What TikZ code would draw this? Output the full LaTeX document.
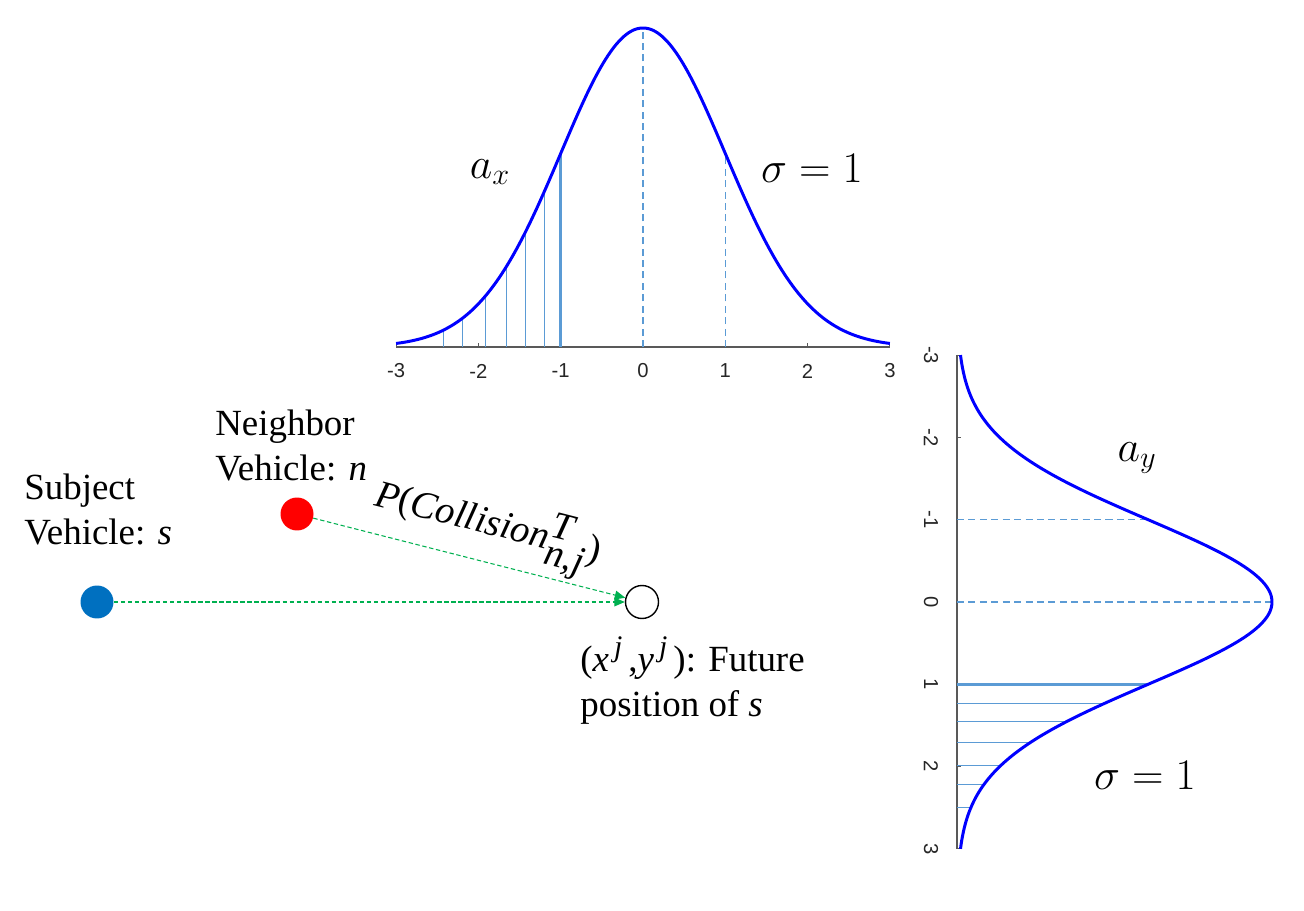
\documentclass[tikz,border=0pt]{standalone}
\usepackage{fontspec}
\setmainfont{Liberation Serif}
\newfontfamily\axisfont{Liberation Sans}
\usetikzlibrary{arrows.meta, positioning}
\definecolor{pdfblue}{HTML}{0000FF}
\definecolor{hatchblue}{HTML}{5B9BD5}
\definecolor{axisgray}{HTML}{595959}
\definecolor{subjblue}{HTML}{0070C0}
\definecolor{nbrred}{HTML}{FF0000}
\definecolor{pathgreen}{HTML}{00B050}
\newcommand{\supj}{\raisebox{0.42em}{\fontsize{17}{17}\selectfont\,\textit{j}}}
\tikzset{
	pdfcurve/.style={draw=pdfblue, line width=1.7pt},
	hatch/.style={draw=hatchblue, line width=0.5pt},
	hatchmain/.style={draw=hatchblue, line width=1.5pt},
	guide/.style={draw=hatchblue, line width=0.75pt, dash pattern=on 4pt off 2.5pt},
	axisline/.style={draw=axisgray, line width=0.6pt},
	ticklbl/.style={font=\axisfont\fontsize{11.5}{12}\selectfont, text=black!85, inner sep=0pt},
	vehicle/.style={circle, minimum size=0.66cm, inner sep=0pt},
	vlabel/.style={font=\fontsize{21}{25.5}\selectfont, align=left, inner sep=0pt, anchor=north west},
	mathlbl/.style={font=\fontsize{25}{28}\selectfont, inner sep=0pt},
	parr/.style={draw=pathgreen, line width=0.6pt, dash pattern=on 2.5pt off 1.5pt,
		-{Triangle[length=6pt, width=5pt]}}
}

\begin{document}
\begin{tikzpicture}[x=0.02cm, y=-0.02cm]
	\useasboundingbox (0,0) rectangle (1304,911);

	% a_x: density along x
	\draw[axisline] (396,347) -- (890,347);
	\foreach \i in {-3,...,3} {
		\draw[axisline] ({643+82.3*\i},347) -- ({643+82.3*\i},343);
		\node[ticklbl] (xt\i) at ({643+82.3*\i},371) {\i};
	}
	\foreach \u in {-1.2,-1.43,-1.66,-1.92,-2.19,-2.43}
		\draw[hatch] ({643+82.3*\u},347) -- ({643+82.3*\u},{347-319*exp(-(\u)*(\u)/2)});
	\draw[hatchmain] ({643-82.3},347) -- ({643-82.3},{347-319*exp(-0.5)});
	\draw[guide] (643,347) -- (643,28);
	\draw[guide] ({643+82.3},347) -- ({643+82.3},{347-319*exp(-0.5)});
	\draw[pdfcurve] plot[domain=-3:3, samples=120, smooth] ({643+82.3*\x},{347-319*exp(-(\x)*(\x)/2)});
	\node[mathlbl] (ax) at (490,172) {$a_x$};
	\node[mathlbl] (sx) at (812,168) {$\sigma = 1$};

	% a_y: density along y
	\draw[axisline] (957,355) -- (957,849);
	\foreach \i in {-3,...,3} {
		\draw[axisline] (957,{602+82.3*\i}) -- (961,{602+82.3*\i});
		\node[ticklbl, rotate=-90] (yt\i) at (931,{602+82.3*\i}) {\i};
	}
	\foreach \u in {1.23,1.45,1.71,1.98,2.22,2.5}
		\draw[hatch] (957,{602+82.3*\u}) -- ({957+315*exp(-(\u)*(\u)/2)},{602+82.3*\u});
	\draw[hatchmain] (957,{602+82.3}) -- ({957+315*exp(-0.5)},{602+82.3});
	\draw[guide] (957,602) -- (1272,602);
	\draw[guide] (957,{602-82.3}) -- ({957+315*exp(-0.5)},{602-82.3});
	\draw[pdfcurve] plot[domain=-3:3, samples=120, smooth] ({957+315*exp(-(\x)*(\x)/2)},{602+82.3*\x});
	\node[mathlbl] (ay) at (1137,458) {$a_y$};
	\node[mathlbl] (sy) at (1145,775) {$\sigma = 1$};

	% vehicles
	\node[vehicle, fill=subjblue] (subj) at (97,602) {};
	\node[vehicle, fill=nbrred] (nbr) at (297,514) {};
	\node[vehicle, draw=black, line width=0.8pt] (fut) at (642,602) {};

	\node[vlabel] (subjlbl) at (24,474) {Subject\\Vehicle: \textit{s}};
	\node[vlabel] (nbrlbl) at (215,410) {Neighbor\\Vehicle: \textit{n}};
	\node[vlabel] (futlbl) at (580,636)
		{(\textit{x}\supj\,,\textit{y}\supj\,): Future\\position of \textit{s}};

	\draw[parr] (subj) -- (fut);
	\draw[parr] (nbr) -- node[pos=0.53, above=2pt, sloped, font=\fontsize{22}{24}\selectfont, inner sep=0pt]
		(plbl) {\textit{P}(\textit{Collision}$^{\textit{T}}_{\textit{n,j}}$)} (fut);
\end{tikzpicture}
\end{document}
